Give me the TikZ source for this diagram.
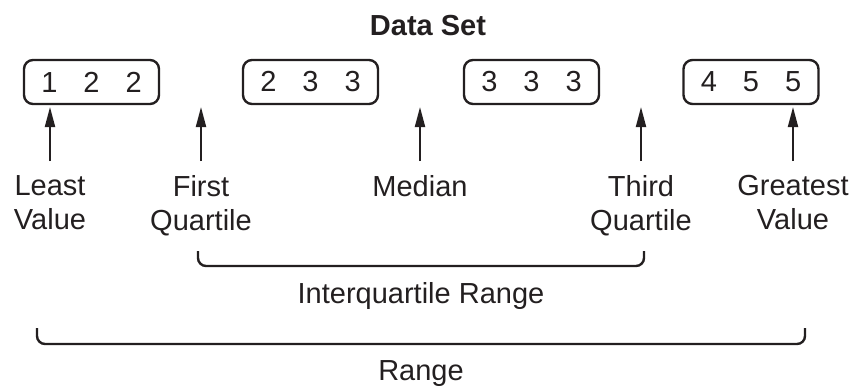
\documentclass[tikz,border=0pt]{standalone}
\usepackage{fontspec}
\setmainfont{Liberation Sans}
\usetikzlibrary{arrows.meta}
\definecolor{ink}{HTML}{231F20}
\begin{document}
\begin{tikzpicture}[x=1pt,y=-1pt,
  every node/.style={text=ink, font=\fontsize{29}{34}\selectfont},
  valbox/.style={draw=ink, line width=2.4pt, rounded corners=9pt, minimum width=135pt, minimum height=44pt, inner sep=0pt},
  uparrow/.style={draw=ink, line width=2pt, -{Triangle[length=20pt,width=10pt]}},
  bracketline/.style={draw=ink, line width=2.4pt, rounded corners=8pt},
  lbl/.style={align=center, anchor=north, inner sep=0pt},
  plain/.style={anchor=base, inner sep=0pt}
]
\useasboundingbox (0,0) rectangle (854,388);

% title
\node[plain, font=\fontsize{29}{34}\selectfont\bfseries] (title) at (428,35) {Data Set};

% value boxes
\node[valbox] (b1) at (91.5,82)  {1\hspace{26pt}2\hspace{26pt}2};
\node[valbox] (b2) at (310.5,82) {2\hspace{26pt}3\hspace{26pt}3};
\node[valbox] (b3) at (531.5,82) {3\hspace{26pt}3\hspace{26pt}3};
\node[valbox] (b4) at (751,82)   {4\hspace{26pt}5\hspace{26pt}5};

% labels
\node[lbl] (lleast)  at (50,175)  {Least\\Value};
\node[lbl] (lfirst)  at (201,175) {First\\Quartile};
\node[lbl] (lmed)    at (420,175) {Median};
\node[lbl] (lthird)  at (641,175) {Third\\Quartile};
\node[lbl] (lgreat)  at (793,175) {Greatest\\Value};

% arrow tails and tips
\coordinate (s1) at (50,161);  \coordinate (t1) at (50,107);
\coordinate (s2) at (201,161); \coordinate (t2) at (201,107);
\coordinate (s3) at (420,161); \coordinate (t3) at (420,107);
\coordinate (s4) at (641,161); \coordinate (t4) at (641,107);
\coordinate (s5) at (793,161); \coordinate (t5) at (793,107);
\foreach \i in {1,...,5} {\draw[uparrow] (s\i) -- (t\i);}

% interquartile bracket
\coordinate (iqL) at (198,251);
\coordinate (iqR) at (644,251);
\draw[bracketline] (iqL) |- (421,266) -| (iqR);
\node[plain] (liqr) at (421,303) {Interquartile Range};

% range bracket
\coordinate (rL) at (37,328);
\coordinate (rR) at (805,328);
\draw[bracketline] (rL) |- (421,344) -| (rR);
\node[plain] (lrange) at (421,380) {Range};
\end{tikzpicture}
\end{document}
